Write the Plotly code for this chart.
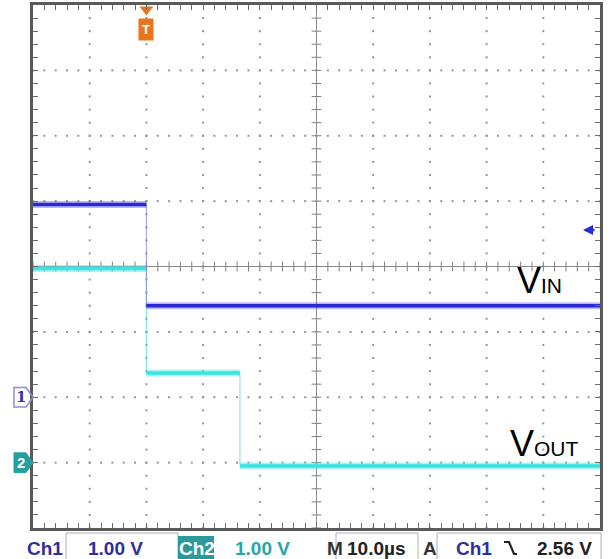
import plotly.graph_objects as go
import numpy as np

# ---------------- data ----------------
TIME_RANGE_US = [-20.0, 80.0]          # trigger at t = 0
US_PER_DIV = 10.0
VOLTS_PER_DIV = 1.0
DIV_RANGE_Y = [-4.0, 4.0]

CH1_GROUND_DIV = -2.0                  # V_IN reference marker "1"
CH1_LEVELS_V = [2.95, 1.40]
CH1_EDGES_US = [0.0]

CH2_GROUND_DIV = -3.0                  # V_OUT reference marker "2"
CH2_LEVELS_V = [2.97, 1.37, -0.05]
CH2_EDGES_US = [0.0, 16.5]

TRIGGER_TIME_US = 0.0
TRIGGER_LEVEL_V = 2.56

STATUS_CH1 = "1.00 V"
STATUS_CH2 = "1.00 V"
STATUS_TIME = "10.0µs"
STATUS_TRIG = "2.56 V"

# ---------------- helpers ----------------
W, H = 615, 559
ML, MR, MT, MB = 33, 15, 5, 31
PW, PH = W - ML - MR, H - MT - MB


def px2x(px):
    return (px - ML) / PW


def py2y(py):
    return (H - MB - py) / PH


def build(levels, edges, ground):
    bounds = [TIME_RANGE_US[0]] + list(edges) + [TIME_RANGE_US[1]]
    lx, ly, ex, ey = [], [], [], []
    ys = [ground + v / VOLTS_PER_DIV for v in levels]
    for i, y in enumerate(ys):
        lx += [bounds[i], bounds[i + 1], None]
        ly += [y, y, None]
    for j, e in enumerate(edges):
        ex += [e, e, None]
        ey += [ys[j], ys[j + 1], None]
    return lx, ly, ex, ey


fig = go.Figure()

t0, t1 = TIME_RANGE_US
xc = (t0 + t1) / 2
minor_x = US_PER_DIV / 5
minor_y = 0.2
GRID = "#959595"

# dotted grid
dx, dy = [], []
for k in range(1, 10):
    if k == 5:
        continue
    xv = t0 + k * US_PER_DIV
    for yv in np.arange(DIV_RANGE_Y[0], DIV_RANGE_Y[1] + 1e-9, minor_y):
        dx.append(xv); dy.append(yv)
for k in range(1, 8):
    if k == 4:
        continue
    yv = DIV_RANGE_Y[0] + k
    for xv in np.arange(t0, t1 + 1e-9, minor_x):
        dx.append(xv); dy.append(yv)
fig.add_trace(go.Scatter(x=dx, y=dy, mode="markers", hoverinfo="skip",
                         marker=dict(symbol="square", size=2, color=GRID, line=dict(width=0)),
                         showlegend=False))

# center cross with ticks
fig.add_shape(type="line", x0=xc, x1=xc, y0=DIV_RANGE_Y[0], y1=DIV_RANGE_Y[1],
              line=dict(color="#8a8a8a", width=1), layer="below")
fig.add_shape(type="line", x0=t0, x1=t1, y0=0, y1=0,
              line=dict(color="#8a8a8a", width=1), layer="below")
cx = list(np.arange(t0, t1 + 1e-9, minor_x))
fig.add_trace(go.Scatter(x=cx, y=[0] * len(cx), mode="markers", hoverinfo="skip",
                         marker=dict(symbol="line-ns", size=7, line=dict(color="#808080", width=1)),
                         showlegend=False))
cy = list(np.arange(DIV_RANGE_Y[0], DIV_RANGE_Y[1] + 1e-9, minor_y))
fig.add_trace(go.Scatter(x=[xc] * len(cy), y=cy, mode="markers", hoverinfo="skip",
                         marker=dict(symbol="line-ew", size=7, line=dict(color="#808080", width=1)),
                         showlegend=False))

# traces
BLUE = "#2a2ad4"
CYAN = "#38e4e4"
for levels, edges, ground, core, halo, edgec in [
    (CH2_LEVELS_V, CH2_EDGES_US, CH2_GROUND_DIV, CYAN, "rgba(70,230,230,0.45)", "rgba(90,215,230,0.8)"),
    (CH1_LEVELS_V, CH1_EDGES_US, CH1_GROUND_DIV, BLUE, "rgba(60,60,220,0.35)", "rgba(130,130,230,0.8)"),
]:
    lx, ly, ex, ey = build(levels, edges, ground)
    fig.add_trace(go.Scatter(x=ex, y=ey, mode="lines", hoverinfo="skip", showlegend=False,
                             line=dict(color=edgec, width=1)))
    fig.add_trace(go.Scatter(x=lx, y=ly, mode="lines", hoverinfo="skip", showlegend=False,
                             line=dict(color=halo, width=7)))
    fig.add_trace(go.Scatter(x=lx, y=ly, mode="lines", hoverinfo="skip", showlegend=False,
                             line=dict(color=core, width=3.5)))

# trigger marker (top)
ORANGE = "#e8761e"
fig.add_trace(go.Scatter(x=[TRIGGER_TIME_US], y=[3.93], mode="markers", hoverinfo="skip",
                         showlegend=False, cliponaxis=False,
                         marker=dict(symbol="triangle-down", size=12, color=ORANGE)))
fig.add_annotation(x=TRIGGER_TIME_US, y=3.63, xref="x", yref="y", text="<b>T</b>",
                   showarrow=False, bgcolor=ORANGE, borderpad=3,
                   xanchor="center", yanchor="middle",
                   font=dict(family="Liberation Sans", size=13, color="white"))

# trigger level arrow (right)
fig.add_annotation(x=px2x(583), y=CH1_GROUND_DIV + TRIGGER_LEVEL_V / VOLTS_PER_DIV,
                   xref="paper", yref="y", text="", showarrow=True,
                   ax=13, ay=0, arrowhead=2, arrowsize=0.8, arrowwidth=2.5, arrowcolor=BLUE)


# channel ground markers (left)
def tag(y):
    return (f"M {px2x(14)},{y+0.15} L {px2x(26)},{y+0.15} L {px2x(33)},{y} "
            f"L {px2x(26)},{y-0.15} L {px2x(14)},{y-0.15} Z")


fig.add_shape(type="path", xref="paper", yref="y", path=tag(CH1_GROUND_DIV),
              line=dict(color="#8d8dd8", width=1.5), fillcolor="rgba(0,0,0,0)")
fig.add_annotation(x=px2x(21), y=CH1_GROUND_DIV, xref="paper", yref="y", text="<b>1</b>",
                   xanchor="center", yanchor="middle",
                   showarrow=False, font=dict(family="DejaVu Serif", size=15, color="#3535a8"))
fig.add_shape(type="path", xref="paper", yref="y", path=tag(CH2_GROUND_DIV),
              line=dict(color="#23a0a0", width=1), fillcolor="#23a0a0")
fig.add_annotation(x=px2x(21), y=CH2_GROUND_DIV, xref="paper", yref="y", text="<b>2</b>",
                   xanchor="center", yanchor="middle",
                   showarrow=False, font=dict(family="Liberation Sans", size=15, color="white"))

# V_IN / V_OUT labels (large V, smaller suffix on the same baseline)
LBL = "Liberation Sans"
for (vx, vy, sub) in [(515, 280, "IN"), (508, 443, "OUT")]:
    fig.add_annotation(x=px2x(vx), y=py2y(vy), xref="paper", yref="paper",
                       text=f"V<span style='font-size:21px'>{sub}</span>",
                       xanchor="left", yanchor="middle",
                       showarrow=False, font=dict(family=LBL, size=36, color="black"))

# status bar
SB_Y = py2y(548)
CH1C = "#2f2f9c"
CH2C = "#2aa5a5"
for x0, x1 in [(66, 178), (336, 418), (437, 601)]:
    fig.add_shape(type="rect", xref="paper", yref="paper", x0=px2x(x0), x1=px2x(x1),
                  y0=py2y(560), y1=py2y(533), line=dict(color="#b0b0b0", width=1))
fig.add_shape(type="rect", xref="paper", yref="paper", x0=px2x(178), x1=px2x(214),
              y0=py2y(559), y1=py2y(536), line=dict(width=0), fillcolor="#2a9a9a")

SF = "Liberation Sans"


def stext(px, txt, color, size=19, bold=True):
    t = f"<b>{txt}</b>" if bold else txt
    fig.add_annotation(x=px2x(px), y=SB_Y, xref="paper", yref="paper", text=t,
                       xanchor="left", yanchor="middle", showarrow=False,
                       font=dict(family=SF, size=size, color=color))


stext(25, "Ch1", CH1C)
stext(86, STATUS_CH1, CH1C)
stext(177, "Ch2", "white")
stext(233, STATUS_CH2, CH2C)
stext(325, "M", "#333333")
stext(345, STATUS_TIME, "#222222")
stext(421, "A", "#333333")
stext(454, "Ch1", CH1C)
stext(535, STATUS_TRIG, "#222222")
# falling edge symbol
fig.add_shape(type="path", xref="paper", yref="paper",
              path=(f"M {px2x(504)},{py2y(542)} L {px2x(509)},{py2y(542)} "
                    f"L {px2x(514)},{py2y(554)} L {px2x(517)},{py2y(554)}"),
              line=dict(color="#222222", width=2.2))

fig.update_xaxes(range=TIME_RANGE_US, showgrid=False, zeroline=False, showline=True,
                 linewidth=3, linecolor="#5a5a5a", mirror="ticks", ticks="inside",
                 tick0=t0, dtick=minor_x, ticklen=5, tickwidth=1, tickcolor="#6a6a6a",
                 showticklabels=False, fixedrange=True)
fig.update_yaxes(range=DIV_RANGE_Y, showgrid=False, zeroline=False, showline=True,
                 linewidth=3, linecolor="#5a5a5a", mirror="ticks", ticks="inside",
                 tick0=DIV_RANGE_Y[0], dtick=minor_y, ticklen=5, tickwidth=1,
                 tickcolor="#6a6a6a", showticklabels=False, fixedrange=True)
fig.update_layout(width=W, height=H, margin=dict(l=ML, r=MR, t=MT, b=MB, autoexpand=False),
                  paper_bgcolor="white", plot_bgcolor="white", showlegend=False)

fig.write_html("out.html", config={"displayModeBar": False},
               post_script="document.body.style.margin='0px';document.body.style.padding='0px';")
